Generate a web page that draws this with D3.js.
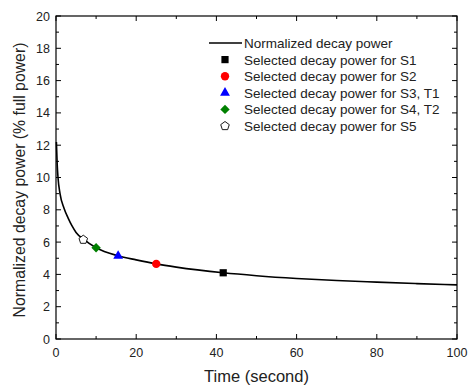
<!DOCTYPE html>
<html>
<head>
<meta charset="utf-8">
<script src="https://cdn.jsdelivr.net/npm/d3@7"></script>
<style>
  body { margin: 0; background: #fff; }
  text { font-family: "Liberation Sans", Arial, sans-serif; fill: #222; }
</style>
</head>
<body>
<svg id="chart" width="471" height="387"></svg>
<script>
// decay curve
var curveTime  = [0.1, 0.3, 0.5, 1, 2, 3, 4, 5, 7, 10, 15.5, 20, 25, 30, 41.7, 50, 60, 70, 80, 90, 100];
var curvePower = [12.2, 10.8, 10.0, 9.0, 8.1, 7.5, 7.0, 6.6, 6.15, 5.65, 5.15, 4.9, 4.65, 4.45, 4.1, 3.92, 3.75, 3.62, 3.52, 3.43, 3.35];

// selected points
var pointNames  = ["S1", "S2", "S3, T1", "S4, T2", "S5"];
var pointTime   = [41.7, 25, 15.5, 10, 6.8];
var pointPower  = [4.1, 4.65, 5.15, 5.65, 6.15];
var pointColors = ["#000", "#ff0000", "#0000ff", "#008000", "#fff"];
var pointShapes = ["square", "circle", "triangle", "diamond", "pentagon"];

var xTicks = [0, 20, 40, 60, 80, 100];
var yTicks = [0, 2, 4, 6, 8, 10, 12, 14, 16, 18, 20];

var svg = d3.select("#chart");
var pLeft = 56, pRight = 457, pTop = 16, pBottom = 339;

var x = d3.scaleLinear().domain([0, 100]).range([pLeft, pRight]);
var y = d3.scaleLinear().domain([0, 20]).range([pBottom, pTop]);

// frame
svg.append("rect")
  .attr("x", pLeft).attr("y", pTop)
  .attr("width", pRight - pLeft).attr("height", pBottom - pTop)
  .attr("fill", "none").attr("stroke", "#000").attr("stroke-width", 1.2);

var g = svg.append("g");

// ticks on all four sides, pointing in
d3.range(0, 101, 10).forEach(function(v){
  var len = v % 20 === 0 ? 5 : 3;
  g.append("line").attr("x1", x(v)).attr("x2", x(v)).attr("y1", pBottom).attr("y2", pBottom - len).attr("stroke", "#000");
  g.append("line").attr("x1", x(v)).attr("x2", x(v)).attr("y1", pTop).attr("y2", pTop + len).attr("stroke", "#000");
});
d3.range(0, 21, 1).forEach(function(v){
  var len = v % 2 === 0 ? 5 : 3;
  g.append("line").attr("y1", y(v)).attr("y2", y(v)).attr("x1", pLeft).attr("x2", pLeft + len).attr("stroke", "#000");
  g.append("line").attr("y1", y(v)).attr("y2", y(v)).attr("x1", pRight).attr("x2", pRight - len).attr("stroke", "#000");
});

g.selectAll("text.xt").data(xTicks).enter().append("text")
  .attr("class", "xt")
  .attr("x", function(d){ return x(d); }).attr("y", pBottom + 18)
  .attr("text-anchor", "middle").attr("font-size", 12.5)
  .text(function(d){ return d; });

g.selectAll("text.yt").data(yTicks).enter().append("text")
  .attr("class", "yt")
  .attr("x", pLeft - 6).attr("y", function(d){ return y(d) + 4.5; })
  .attr("text-anchor", "end").attr("font-size", 12.5)
  .text(function(d){ return d; });

svg.append("text")
  .attr("x", (pLeft + pRight) / 2).attr("y", 382)
  .attr("text-anchor", "middle").attr("font-size", 16.5)
  .text("Time (second)");

svg.append("text")
  .attr("transform", "translate(25," + 180 + ") rotate(-90)")
  .attr("text-anchor", "middle").attr("font-size", 15.8)
  .text("Normalized decay power (% full power)");

// curve
var line = d3.line()
  .x(function(d){ return x(d[0]); })
  .y(function(d){ return y(d[1]); })
  .curve(d3.curveMonotoneX);

svg.append("path")
  .datum(d3.zip(curveTime, curvePower))
  .attr("d", line)
  .attr("fill", "none").attr("stroke", "#000").attr("stroke-width", 1.6);

// markers
function pentagon(r){
  var pts = d3.range(5).map(function(i){
    var a = -Math.PI / 2 + i * 2 * Math.PI / 5;
    return [r * Math.cos(a), r * Math.sin(a)];
  });
  return "M" + pts.join("L") + "Z";
}
function marker(sel, shape, color){
  var d;
  if(shape === "square") d = d3.symbol(d3.symbolSquare, 52)();
  else if(shape === "circle") d = d3.symbol(d3.symbolCircle, 55)();
  else if(shape === "triangle") d = d3.symbol(d3.symbolTriangle, 42)();
  else if(shape === "diamond") d = "M0,-4.7L4.7,0L0,4.7L-4.7,0Z";
  else d = pentagon(4.5);
  sel.append("path").attr("d", d)
    .attr("fill", color)
    .attr("stroke", shape === "pentagon" ? "#000" : "none")
    .attr("stroke-width", 0.9);
}

pointTime.forEach(function(t, i){
  var m = svg.append("g").attr("transform", "translate(" + x(t) + "," + y(pointPower[i]) + ")");
  marker(m, pointShapes[i], pointColors[i]);
});

// legend
var lg = svg.append("g");
var lx = 225, ly = 43, step = 16.6;
lg.append("line").attr("x1", 209).attr("x2", 242).attr("y1", ly).attr("y2", ly)
  .attr("stroke", "#000").attr("stroke-width", 1.6);
lg.append("text").attr("x", 244).attr("y", ly + 5).attr("font-size", 13.5)
  .text("Normalized decay power");
pointNames.forEach(function(n, i){
  var yy = ly + step * (i + 1);
  var m = lg.append("g").attr("transform", "translate(" + lx + "," + yy + ")");
  marker(m, pointShapes[i], pointColors[i]);
  lg.append("text").attr("x", 244).attr("y", yy + 5).attr("font-size", 13.5)
    .text("Selected decay power for " + n);
});
</script>
</body>
</html>
